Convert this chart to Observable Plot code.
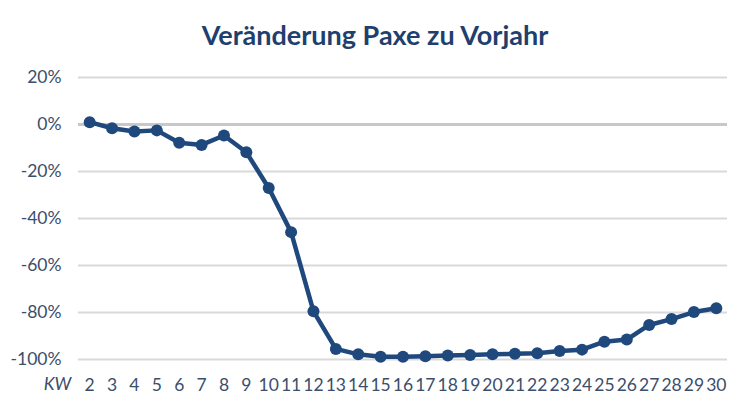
<!DOCTYPE html>
<html>
<head>
<meta charset="utf-8">
<script src="https://cdn.jsdelivr.net/npm/d3@7"></script>
<script src="https://cdn.jsdelivr.net/npm/@observablehq/plot@0.6"></script>
<style>
  body { margin: 0; background: #fff; font-family: Lato, "Open Sans", sans-serif; }
  #title { height: 60px; line-height: 70px; text-align: center; font-size: 27px; font-weight: bold; color: #1F3F6E; }
</style>
</head>
<body>
<div id="title">Veränderung Paxe zu Vorjahr</div>
<div id="chart"></div>
<script>
const weeks = [2,3,4,5,6,7,8,9,10,11,12,13,14,15,16,17,18,19,20,21,22,23,24,25,26,27,28,29,30];
const change = [0.01,-0.016,-0.03,-0.025,-0.078,-0.087,-0.047,-0.118,-0.27,-0.458,-0.795,-0.955,-0.978,-0.988,-0.988,-0.986,-0.983,-0.981,-0.978,-0.976,-0.973,-0.964,-0.958,-0.924,-0.915,-0.853,-0.828,-0.798,-0.782];
const yTicks = [0.2, 0, -0.2, -0.4, -0.6, -0.8, -1.0];

const data = weeks.map((w, i) => ({week: String(w), value: change[i]}));
const textColor = "#3B4E6B";
const lineColor = "#1F497D";

const chart = Plot.plot({
  width: 750,
  height: 349,
  marginTop: 17,
  marginBottom: 50,
  marginLeft: 78,
  marginRight: 23,
  style: { fontFamily: "Lato, 'Open Sans', sans-serif", fontSize: "18px", color: textColor, background: "#fff" },
  x: { type: "band", domain: weeks.map(String), padding: 0, round: false, label: null },
  y: { domain: [-1, 0.2], label: null },
  marks: [
    Plot.ruleY(yTicks.filter(d => d !== 0), { stroke: "#D9D9D9", strokeWidth: 2 }),
    Plot.ruleY([0], { stroke: "#C8C8C8", strokeWidth: 3 }),
    Plot.axisY({ ticks: yTicks, tickSize: 0, tickPadding: 17, tickFormat: d => Math.round(d * 100) + "%", fill: textColor, fontSize: 17.5 }),
    Plot.axisX({ tickSize: 0, tickPadding: 19, fill: textColor, fontSize: 17.5 }),
    Plot.text(["KW"], { frameAnchor: "bottom-left", dx: -21, dy: 30, fontStyle: "italic", fill: textColor, fontSize: 17.5, textAnchor: "middle" }),
    Plot.line(data, { x: "week", y: "value", stroke: lineColor, strokeWidth: 4.5, strokeLinejoin: "round" }),
    Plot.dot(data, { x: "week", y: "value", fill: lineColor, r: 6 })
  ]
});
document.getElementById("chart").appendChild(chart);
</script>
</body>
</html>
